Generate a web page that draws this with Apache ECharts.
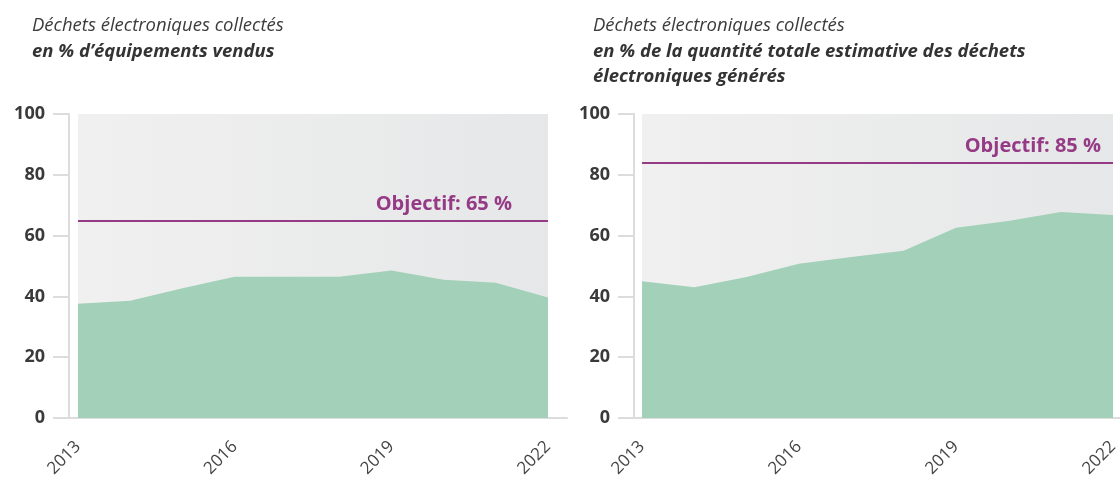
<!DOCTYPE html>
<html lang="fr">
<head>
  <meta charset="UTF-8">
  <title>Déchets électroniques collectés</title>
  <script src="https://cdn.jsdelivr.net/npm/echarts@6/dist/echarts.min.js"></script>
  <style>
    html, body { margin: 0; padding: 0; background: #fff; }
    #main { width: 1120px; height: 477px; }
  </style>
</head>
<body>
<div id="main"></div>
<script type="text/javascript">
  // années
  var years = [2013, 2014, 2015, 2016, 2017, 2018, 2019, 2020, 2021, 2022];
  var yearLabels = [2013, 2016, 2019, 2022];
  // en % d'équipements vendus
  var collecteVendus = [37.6, 38.6, 42.7, 46.5, 46.5, 46.5, 48.5, 45.5, 44.5, 39.6];
  // en % des déchets générés
  var collecteGeneres = [45, 43, 46.4, 50.7, 53, 55, 62.6, 64.8, 67.8, 66.8];
  var objectifs = [65, 84];
  var objectifLabels = ['Objectif: 65 %', 'Objectif: 85 %'];

  var FONT = '"Open Sans", sans-serif';
  var green = '#a2d0b8';
  var purple = '#953b86';
  var axisGrey = '#dcdcdc';

  var chartDom = document.getElementById('main');
  var myChart = echarts.init(chartDom);
  var option;

  function makeSeries(idx, values, labelPad) {
    return {
      type: 'line',
      xAxisIndex: idx,
      yAxisIndex: idx,
      symbol: 'none',
      lineStyle: { width: 0 },
      areaStyle: { color: green, opacity: 1 },
      data: years.map(function (y, i) { return [y, values[i]]; }),
      markArea: {
        silent: true,
        itemStyle: {
          color: new echarts.graphic.LinearGradient(0, 0, 1, 0, [
            { offset: 0, color: '#f0f0f0' },
            { offset: 1, color: '#e6e7e8' }
          ])
        },
        data: [[{ xAxis: years[0], yAxis: 0 }, { xAxis: years[years.length - 1], yAxis: 100 }]]
      },
      markLine: {
        silent: true,
        symbol: 'none',
        lineStyle: { color: purple, width: 2, type: 'solid' },
        label: {
          show: true,
          position: 'insideEndTop',
          formatter: objectifLabels[idx],
          color: purple,
          fontFamily: FONT,
          fontWeight: 'bold',
          fontSize: 20,
          distance: 6,
          padding: [0, labelPad, 0, 0]
        },
        data: [[{ coord: [years[0], objectifs[idx]] }, { coord: [years[years.length - 1], objectifs[idx]] }]]
      }
    };
  }

  function makeXAxis(idx, min, max) {
    return {
      type: 'value',
      gridIndex: idx,
      min: min,
      max: max,
      axisLine: { show: true, lineStyle: { color: axisGrey, width: 2 } },
      axisTick: { show: false },
      splitLine: { show: false },
      axisLabel: {
        customValues: yearLabels,
        formatter: function (v) { return String(v); },
        rotate: 45,
        margin: 26,
        color: '#444',
        fontFamily: FONT,
        fontSize: 17
      }
    };
  }

  function makeYAxis(idx) {
    return {
      type: 'value',
      gridIndex: idx,
      min: 0,
      max: 100,
      interval: 20,
      offset: -15,
      axisLine: { show: true, lineStyle: { color: axisGrey, width: 2 } },
      axisTick: { show: true, length: 16, lineStyle: { color: axisGrey, width: 2 } },
      splitLine: { show: false },
      axisLabel: {
        margin: 24,
        color: '#3a3a3a',
        fontFamily: FONT,
        fontWeight: 'bold',
        fontSize: 18
      }
    };
  }

  var titleStyle = { fontFamily: FONT, fontStyle: 'italic', fontWeight: 'normal', fontSize: 18.5, color: '#3c3c3c', lineHeight: 25 };
  var subStyle = { fontFamily: FONT, fontStyle: 'italic', fontWeight: 'bold', fontSize: 18.5, color: '#333', lineHeight: 25 };

  option = {
    animation: false,
    backgroundColor: '#fff',
    title: [
      {
        left: 32,
        top: 13,
        padding: 0,
        text: 'Déchets électroniques collectés',
        subtext: 'en % d\u2019équipements vendus',
        itemGap: 1,
        textStyle: titleStyle,
        subtextStyle: subStyle
      },
      {
        left: 593,
        top: 13,
        padding: 0,
        text: 'Déchets électroniques collectés',
        subtext: 'en % de la quantité totale estimative des déchets\nélectroniques générés',
        itemGap: 1,
        textStyle: titleStyle,
        subtextStyle: subStyle
      }
    ],
    grid: [
      { left: 54, right: 553, top: 114, bottom: 59, outerBoundsMode: 'none' },
      { left: 619, right: 0, top: 114, bottom: 59, outerBoundsMode: 'none' }
    ],
    xAxis: [
      makeXAxis(0, 2012.54, 2022.364),
      makeXAxis(1, 2012.56, 2022.134)
    ],
    yAxis: [makeYAxis(0), makeYAxis(1)],
    series: [
      makeSeries(0, collecteVendus, 30),
      makeSeries(1, collecteGeneres, 6)
    ]
  };

  option && myChart.setOption(option);
</script>
</body>
</html>
